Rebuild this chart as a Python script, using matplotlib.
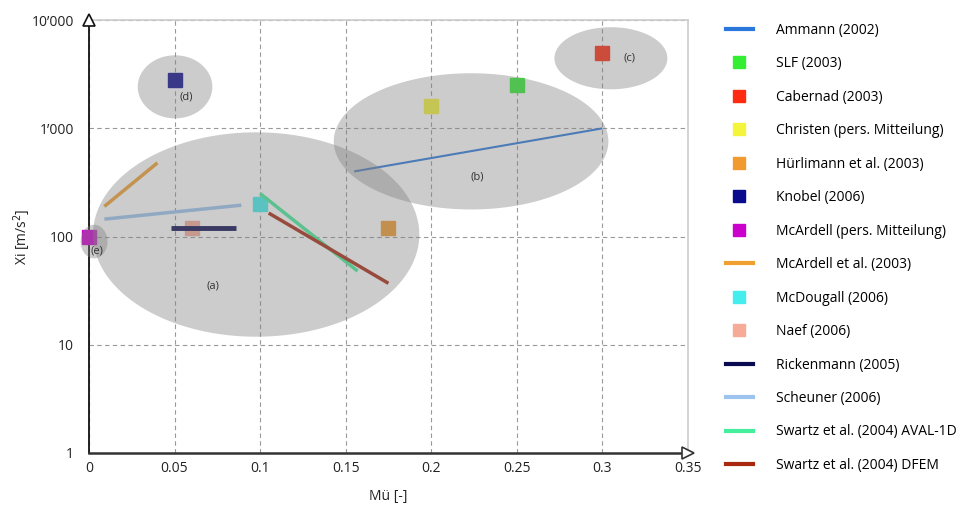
import numpy as np
import matplotlib
matplotlib.use("Agg")
import matplotlib.pyplot as plt
from matplotlib.lines import Line2D
from matplotlib.ticker import FixedLocator, FixedFormatter, NullLocator

plt.rcParams["font.family"] = ["Open Sans", "DejaVu Sans"]

# ---- Punktdaten (Mü, Xi) ----
point_names = ["SLF (2003)", "Cabernad (2003)", "Christen (pers. Mitteilung)",
               "Hürlimann et al. (2003)", "Knobel (2006)", "McArdell (pers. Mitteilung)",
               "McDougall (2006)", "Naef (2006)"]
point_mu = [0.25, 0.30, 0.20, 0.175, 0.05, 0.0, 0.10, 0.06]
point_xi = [2500, 5000, 1600, 120, 2800, 100, 200, 120]
point_colors = ["#33ee33", "#ff2a10", "#f4f43a", "#f09a30", "#0a0a8c", "#cc00cc",
                "#44eeee", "#f6ab98"]

# ---- Liniendaten ----
line_names = ["Ammann (2002)", "McArdell et al. (2003)", "Rickenmann (2005)",
              "Scheuner (2006)", "Swartz et al. (2004) AVAL-1D", "Swartz et al. (2004) DFEM"]
line_mu = [(0.155, 0.30), (0.009, 0.040), (0.048, 0.086), (0.009, 0.089),
           (0.100, 0.157), (0.105, 0.175)]
line_xi = [(400, 1000), (190, 480), (120, 120), (145, 195), (250, 48), (165, 37)]
line_colors = ["#2a78dc", "#f0a030", "#0a0a50", "#9cc4ee", "#44ee9a", "#a82810"]
line_widths = [1.5, 2.5, 3.5, 2.5, 2.5, 2.5]

legend_order = ["Ammann (2002)", "SLF (2003)", "Cabernad (2003)", "Christen (pers. Mitteilung)",
                "Hürlimann et al. (2003)", "Knobel (2006)", "McArdell (pers. Mitteilung)",
                "McArdell et al. (2003)", "McDougall (2006)", "Naef (2006)", "Rickenmann (2005)",
                "Scheuner (2006)", "Swartz et al. (2004) AVAL-1D", "Swartz et al. (2004) DFEM"]

# ---- Gruppen-Ellipsen: Mittelpunkt (Mü, log10 Xi), Breite, Höhe in Dekaden ----
group_labels = ["(a)", "(b)", "(c)", "(d)", "(e)"]
group_cx = [0.0977, 0.2233, 0.305, 0.0503, 0.003]
group_cy = [2.019, 2.880, 3.648, 3.384, 1.954]
group_w = [0.1907, 0.1605, 0.066, 0.0436, 0.0157]
group_h = [1.889, 1.259, 0.574, 0.583, 0.31]
label_mu = [0.0727, 0.2267, 0.316, 0.057, 0.0047]
label_xi = [35, 352, 4450, 1940, 74]

x_ticks = [0, 0.05, 0.1, 0.15, 0.2, 0.25, 0.3, 0.35]
x_tick_labels = ["0", "0.05", "0.1", "0.15", "0.2", "0.25", "0.3", "0.35"]
y_ticks = [1, 10, 100, 1000, 10000]
y_tick_labels = ["1", "10", "100", "1\u2019000", "10\u2019000"]

fig = plt.figure(figsize=(9.69, 5.08), dpi=100)
ax = fig.add_axes([0.0918, 0.1083, 0.6181, 0.852])

ax.set_xlim(0, 0.35)
ax.set_yscale("log")
ax.set_ylim(1, 10000)

for name, mu, xi, c in zip(point_names, point_mu, point_xi, point_colors):
    ax.plot(mu, xi, marker="s", ms=9.5, color=c, mec=c, ls="none", zorder=3, clip_on=False)

for name, mu, xi, c, lw in zip(line_names, line_mu, line_xi, line_colors, line_widths):
    ax.plot(mu, xi, color=c, lw=lw, solid_capstyle="butt", zorder=3)

t = np.linspace(0, 2 * np.pi, 200)
for cx, cy, w, h in zip(group_cx, group_cy, group_w, group_h):
    ex = cx + w / 2 * np.cos(t)
    ey = 10 ** (cy + h / 2 * np.sin(t))
    ax.fill(ex, ey, color="#808080", alpha=0.4, lw=0, zorder=4, clip_on=False)

for lab, mu, xi in zip(group_labels, label_mu, label_xi):
    ax.text(mu, xi, lab, fontsize=8, ha="center", va="center", color="#333333", zorder=5)

# Gitter
ax.xaxis.set_major_locator(FixedLocator(x_ticks))
ax.xaxis.set_major_formatter(FixedFormatter(x_tick_labels))
ax.yaxis.set_major_locator(FixedLocator(y_ticks))
ax.yaxis.set_major_formatter(FixedFormatter(y_tick_labels))
ax.yaxis.set_minor_locator(NullLocator())
ax.grid(True, ls=(0, (4, 3)), color="#999999", lw=0.8, zorder=1)
ax.tick_params(length=0, labelsize=10, colors="#222222")
ax.tick_params(axis="y", pad=11)
ax.tick_params(axis="x", pad=6)

for s in ["top", "right"]:
    ax.spines[s].set_color("#cccccc")
    ax.spines[s].set_linewidth(1.2)
ax.spines["left"].set_color("#111111")
ax.spines["left"].set_linewidth(1.3)
ax.spines["bottom"].set_color("#333333")
ax.spines["bottom"].set_linewidth(1.8)

# Pfeilspitzen an den Achsen
ax.plot(0, 1.0, marker="^", ms=9, mfc="white", mec="#111111", mew=1.2,
        transform=ax.transAxes, clip_on=False, zorder=6)
ax.plot(1.0, 0, marker=">", ms=9, mfc="white", mec="#333333", mew=1.2,
        transform=ax.transAxes, clip_on=False, zorder=6)

ax.set_xlabel("Mü [-]", fontsize=10, labelpad=9, color="#222222")
ax.set_ylabel("Xi [m/s$^2$]", fontsize=10, labelpad=-1, color="#222222")

# Legende
handles = []
for name in legend_order:
    if name in point_names:
        c = point_colors[point_names.index(name)]
        handles.append(Line2D([0], [0], marker="s", ms=8.5, color=c, ls="none", label=name))
    else:
        i = line_names.index(name)
        handles.append(Line2D([0], [0], color=line_colors[i], lw=3, label=name))

fig.legend(handles=handles, loc="upper left", bbox_to_anchor=(0.743, 0.966),
           frameon=False, fontsize=10, handlelength=2.0, handletextpad=1.6,
           labelspacing=1.33, borderaxespad=0)

fig.savefig("out.png", dpi=100)
